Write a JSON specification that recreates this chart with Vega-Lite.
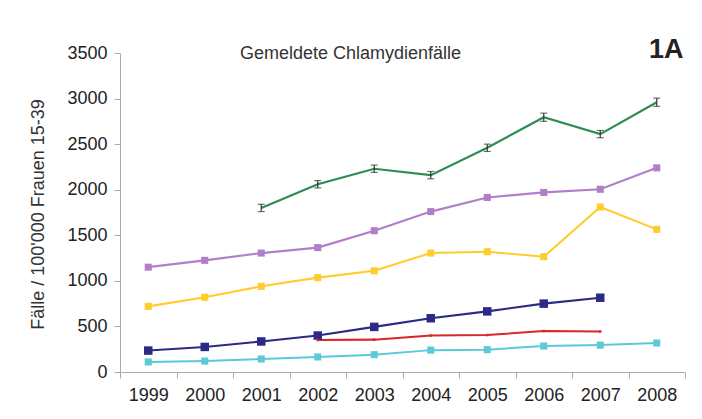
{
  "$schema": "https://vega.github.io/schema/vega-lite/v6.json",
  "width": 565,
  "height": 319,
  "autosize": {"type": "none"},
  "padding": {"left": 120, "top": 53, "right": 17, "bottom": 47},
  "background": "white",
  "config": {"view": {"stroke": null}, "font": "Liberation Sans"},
  "title": {"text": "Gemeldete Chlamydienfälle", "anchor": "start", "frame": "group", "dx": 120, "offset": -28, "fontSize": 18, "fontWeight": "normal", "color": "#333"},
  "data": {"values": [
    {"year": "2001", "series": "S1", "value": 1800, "lo": 1760, "hi": 1840},
    {"year": "2002", "series": "S1", "value": 2060, "lo": 2020, "hi": 2100},
    {"year": "2003", "series": "S1", "value": 2230, "lo": 2190, "hi": 2270},
    {"year": "2004", "series": "S1", "value": 2160, "lo": 2120, "hi": 2200},
    {"year": "2005", "series": "S1", "value": 2460, "lo": 2420, "hi": 2500},
    {"year": "2006", "series": "S1", "value": 2795, "lo": 2750, "hi": 2840},
    {"year": "2007", "series": "S1", "value": 2610, "lo": 2570, "hi": 2650},
    {"year": "2008", "series": "S1", "value": 2960, "lo": 2915, "hi": 3005},
    {"year": "1999", "series": "S2", "value": 1150},
    {"year": "2000", "series": "S2", "value": 1225},
    {"year": "2001", "series": "S2", "value": 1305},
    {"year": "2002", "series": "S2", "value": 1365},
    {"year": "2003", "series": "S2", "value": 1550},
    {"year": "2004", "series": "S2", "value": 1760},
    {"year": "2005", "series": "S2", "value": 1915},
    {"year": "2006", "series": "S2", "value": 1970},
    {"year": "2007", "series": "S2", "value": 2005},
    {"year": "2008", "series": "S2", "value": 2240},
    {"year": "1999", "series": "S3", "value": 720},
    {"year": "2000", "series": "S3", "value": 820},
    {"year": "2001", "series": "S3", "value": 940},
    {"year": "2002", "series": "S3", "value": 1035},
    {"year": "2003", "series": "S3", "value": 1110},
    {"year": "2004", "series": "S3", "value": 1305},
    {"year": "2005", "series": "S3", "value": 1320},
    {"year": "2006", "series": "S3", "value": 1265},
    {"year": "2007", "series": "S3", "value": 1810},
    {"year": "2008", "series": "S3", "value": 1565},
    {"year": "1999", "series": "S4", "value": 235},
    {"year": "2000", "series": "S4", "value": 275},
    {"year": "2001", "series": "S4", "value": 335},
    {"year": "2002", "series": "S4", "value": 400},
    {"year": "2003", "series": "S4", "value": 495},
    {"year": "2004", "series": "S4", "value": 590},
    {"year": "2005", "series": "S4", "value": 665},
    {"year": "2006", "series": "S4", "value": 750},
    {"year": "2007", "series": "S4", "value": 815},
    {"year": "2002", "series": "S5", "value": 350},
    {"year": "2003", "series": "S5", "value": 355},
    {"year": "2004", "series": "S5", "value": 400},
    {"year": "2005", "series": "S5", "value": 405},
    {"year": "2006", "series": "S5", "value": 450},
    {"year": "2007", "series": "S5", "value": 445},
    {"year": "1999", "series": "S6", "value": 110},
    {"year": "2000", "series": "S6", "value": 120},
    {"year": "2001", "series": "S6", "value": 143},
    {"year": "2002", "series": "S6", "value": 165},
    {"year": "2003", "series": "S6", "value": 190},
    {"year": "2004", "series": "S6", "value": 240},
    {"year": "2005", "series": "S6", "value": 245},
    {"year": "2006", "series": "S6", "value": 285},
    {"year": "2007", "series": "S6", "value": 295},
    {"year": "2008", "series": "S6", "value": 318}
  ]},
  "layer": [
    {
      "mark": {"type": "line"},
      "encoding": {
        "x": {"field": "year", "type": "ordinal", "bandPosition": 0.5,
          "scale": {"type": "band", "paddingInner": 0, "paddingOuter": 0},
          "axis": {"orient": "bottom", "tickBand": "extent", "labelAngle": 0, "labelFontSize": 18, "labelPadding": 8, "tickSize": 6, "domainColor": "#aaa", "tickColor": "#aaa", "labelColor": "#222", "title": null}},
        "y": {"field": "value", "type": "quantitative", "title": "Fälle / 100'000 Frauen 15-39",
          "scale": {"domain": [0, 3500], "nice": false},
          "axis": {"values": [0, 500, 1000, 1500, 2000, 2500, 3000, 3500], "format": "d", "grid": false, "domainColor": "#aaa", "tickColor": "#aaa", "tickSize": 6, "labelFontSize": 18, "labelColor": "#222", "labelPadding": 7, "titleFontSize": 18, "titleFontWeight": "normal", "titleColor": "#333", "titleX": -82, "titleY": 161, "titleAngle": 270, "titleBaseline": "middle", "titleAlign": "center"}},
        "color": {"field": "series", "type": "nominal", "legend": null,
          "scale": {"domain": ["S1", "S2", "S3", "S4", "S5", "S6"], "range": ["#2C8C55", "#B07FC8", "#FFCC2E", "#2B2A85", "#D8262B", "#5CC9D9"]}},
        "strokeWidth": {"field": "series", "type": "nominal", "legend": null,
          "scale": {"domain": ["S1", "S2", "S3", "S4", "S5", "S6"], "range": [2.2, 2, 2, 2.8, 2, 2]}}
      }
    },
    {
      "transform": [{"filter": "datum.series === 'S2' || datum.series === 'S3' || datum.series === 'S6'"}],
      "mark": {"type": "point", "shape": "square", "filled": true, "opacity": 1, "size": 50},
      "encoding": {
        "x": {"field": "year", "type": "ordinal", "bandPosition": 0.5, "axis": null},
        "y": {"field": "value", "type": "quantitative", "title": "Fälle / 100'000 Frauen 15-39"},
        "color": {"field": "series", "type": "nominal", "legend": null}
      }
    },
    {
      "transform": [{"filter": "datum.series === 'S4'"}],
      "mark": {"type": "point", "shape": "square", "filled": true, "opacity": 1, "size": 72},
      "encoding": {
        "x": {"field": "year", "type": "ordinal", "bandPosition": 0.5, "axis": null},
        "y": {"field": "value", "type": "quantitative", "title": "Fälle / 100'000 Frauen 15-39"},
        "color": {"field": "series", "type": "nominal", "legend": null}
      }
    },
    {
      "transform": [{"filter": "datum.series === 'S5'"}],
      "mark": {"type": "point", "shape": "square", "filled": true, "opacity": 1, "size": 6},
      "encoding": {
        "x": {"field": "year", "type": "ordinal", "bandPosition": 0.5, "axis": null},
        "y": {"field": "value", "type": "quantitative", "title": "Fälle / 100'000 Frauen 15-39"},
        "color": {"field": "series", "type": "nominal", "legend": null}
      }
    },
    {
      "transform": [{"filter": "isValid(datum.lo)"}],
      "mark": {"type": "errorbar", "ticks": {"size": 7}, "color": "#333", "thickness": 1.2},
      "encoding": {
        "x": {"field": "year", "type": "ordinal", "bandPosition": 0.5,
          "axis": {"orient": "top", "labels": false, "ticks": false, "domain": false, "title": "1A", "titleFontSize": 27, "titleFontWeight": "bold", "titleColor": "#222", "titleX": 563, "titleY": -4, "titleAlign": "right", "titleBaseline": "middle"}},
        "y": {"field": "lo", "type": "quantitative", "title": "Fälle / 100'000 Frauen 15-39"},
        "y2": {"field": "hi"}
      }
    }
  ],
  "resolve": {"axis": {"x": "independent"}}
}
